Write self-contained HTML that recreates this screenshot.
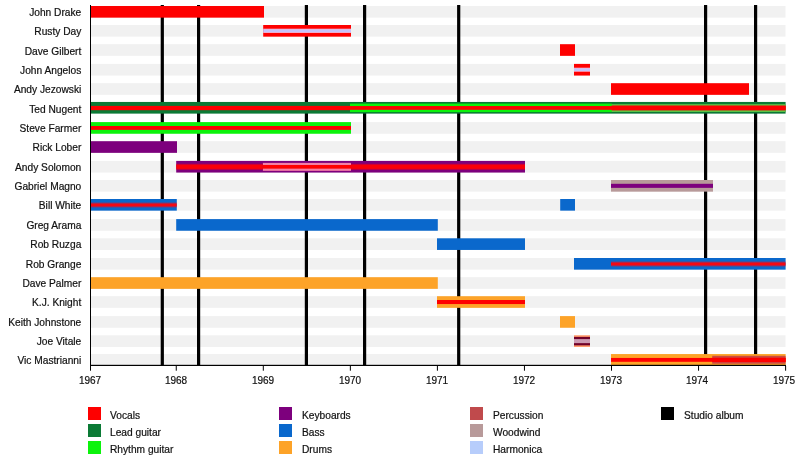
<!DOCTYPE html>
<html><head><meta charset="utf-8"><title>Timeline</title>
<style>
html,body{margin:0;padding:0;background:#fff;}
body{width:800px;height:475px;position:relative;overflow:hidden;font-family:"Liberation Sans",sans-serif;font-size:10.2px;color:#111;-webkit-text-stroke:0.2px #111;}
svg{position:absolute;left:0;top:0;}
.nm,.yr,.lg{position:absolute;will-change:transform;line-height:13px;height:13px;white-space:nowrap;}
.nm{left:0;width:81.3px;text-align:right;}
.yr{width:40px;text-align:center;font-size:10px;}
</style></head><body>
<svg width="800" height="475" viewBox="0 0 800 475">
<defs><linearGradient id="rg" x1="0" y1="0" x2="0" y2="1">
<stop offset="0.2" stop-color="#fa0008" stop-opacity="0"/><stop offset="0.37" stop-color="#fa0008"/><stop offset="0.64" stop-color="#fa0008"/><stop offset="0.82" stop-color="#fa0008" stop-opacity="0"/>
</linearGradient>
<linearGradient id="rg2" x1="0" y1="0" x2="0" y2="1">
<stop offset="0.26" stop-color="#f40814" stop-opacity="0"/><stop offset="0.44" stop-color="#f40814"/><stop offset="0.59" stop-color="#f40814"/><stop offset="0.77" stop-color="#f40814" stop-opacity="0"/>
</linearGradient>
<linearGradient id="hg" x1="0" y1="0" x2="0" y2="1">
<stop offset="0" stop-color="#ffb0c8"/><stop offset="0.32" stop-color="#c6c3fc"/><stop offset="0.68" stop-color="#c6c3fc"/><stop offset="1" stop-color="#ffb0c8"/>
</linearGradient></defs>
<rect x="91.00" y="6.00" width="694.50" height="11.65" fill="#f1f1f1"/>
<rect x="91.00" y="25.00" width="694.50" height="11.65" fill="#f1f1f1"/>
<rect x="91.00" y="44.20" width="694.50" height="11.65" fill="#f1f1f1"/>
<rect x="91.00" y="63.90" width="694.50" height="11.65" fill="#f1f1f1"/>
<rect x="91.00" y="83.20" width="694.50" height="11.65" fill="#f1f1f1"/>
<rect x="91.00" y="101.95" width="694.50" height="11.65" fill="#f1f1f1"/>
<rect x="91.00" y="122.10" width="694.50" height="11.65" fill="#f1f1f1"/>
<rect x="91.00" y="141.20" width="694.50" height="11.65" fill="#f1f1f1"/>
<rect x="91.00" y="160.90" width="694.50" height="11.65" fill="#f1f1f1"/>
<rect x="91.00" y="180.00" width="694.50" height="11.65" fill="#f1f1f1"/>
<rect x="91.00" y="199.00" width="694.50" height="11.65" fill="#f1f1f1"/>
<rect x="91.00" y="219.10" width="694.50" height="11.65" fill="#f1f1f1"/>
<rect x="91.00" y="238.30" width="694.50" height="11.65" fill="#f1f1f1"/>
<rect x="91.00" y="258.00" width="694.50" height="11.65" fill="#f1f1f1"/>
<rect x="91.00" y="277.20" width="694.50" height="11.65" fill="#f1f1f1"/>
<rect x="91.00" y="296.20" width="694.50" height="11.65" fill="#f1f1f1"/>
<rect x="91.00" y="316.10" width="694.50" height="11.65" fill="#f1f1f1"/>
<rect x="91.00" y="335.30" width="694.50" height="11.65" fill="#f1f1f1"/>
<rect x="91.00" y="354.05" width="694.50" height="11.25" fill="#f1f1f1"/>
<rect x="160.70" y="5.00" width="3.20" height="360.50" fill="#000"/>
<rect x="197.00" y="5.00" width="3.20" height="360.50" fill="#000"/>
<rect x="304.80" y="5.00" width="3.20" height="360.50" fill="#000"/>
<rect x="363.00" y="5.00" width="3.20" height="360.50" fill="#000"/>
<rect x="457.10" y="5.00" width="3.20" height="360.50" fill="#000"/>
<rect x="704.00" y="5.00" width="3.20" height="360.50" fill="#000"/>
<rect x="754.00" y="5.00" width="3.20" height="360.50" fill="#000"/>
<rect x="91.00" y="6.00" width="173.00" height="11.65" fill="#fe0000"/>
<rect x="263.20" y="25.00" width="87.80" height="11.65" fill="#fe0000"/>
<rect x="263.20" y="28.70" width="87.80" height="4.25" fill="url(#hg)"/>
<rect x="560.00" y="44.20" width="15.00" height="11.65" fill="#fe0000"/>
<rect x="574.00" y="63.90" width="16.00" height="11.65" fill="#fe0000"/>
<rect x="574.00" y="67.70" width="16.00" height="4.05" fill="url(#hg)"/>
<rect x="611.00" y="83.20" width="138.00" height="11.65" fill="#fe0000"/>
<rect x="91.00" y="101.95" width="694.60" height="11.65" fill="#0b7a35"/>
<rect x="611.00" y="104.15" width="174.60" height="7.85" fill="#5cc446"/>
<rect x="350.00" y="103.60" width="261.70" height="8.50" fill="#0cf30c"/>
<rect x="91.00" y="106.05" width="694.60" height="3.75" fill="#fe0000"/>
<rect x="91.00" y="105.90" width="259.00" height="4.30" fill="#fe0000"/>
<rect x="611.70" y="105.50" width="173.90" height="4.90" fill="#fe0000"/>
<rect x="91.00" y="122.10" width="260.00" height="11.65" fill="#0cf30c"/>
<rect x="91.00" y="126.00" width="260.00" height="3.85" fill="#fe0000"/>
<rect x="91.00" y="141.20" width="86.00" height="11.65" fill="#7d007d"/>
<rect x="176.20" y="160.90" width="348.80" height="11.65" fill="#7d007d"/>
<rect x="262.90" y="162.90" width="88.10" height="7.95" fill="#f27fa6"/>
<rect x="176.2" y="160.90" width="86.70" height="11.65" fill="url(#rg)"/>
<rect x="351" y="160.90" width="174.00" height="11.65" fill="url(#rg)"/>
<rect x="262.90" y="165.00" width="88.10" height="3.65" fill="#fe0000"/>
<rect x="611.00" y="180.00" width="102.00" height="11.65" fill="#b89a9a"/>
<rect x="611.00" y="183.80" width="102.00" height="4.05" fill="#7d007d"/>
<rect x="91.00" y="199.00" width="85.80" height="11.65" fill="#0a68cc"/>
<rect x="91.00" y="199.00" width="85.80" height="11.65" fill="url(#rg2)"/>
<rect x="560.20" y="199.00" width="14.80" height="11.65" fill="#0a68cc"/>
<rect x="176.20" y="219.10" width="261.60" height="11.65" fill="#0a68cc"/>
<rect x="437.00" y="238.30" width="88.00" height="11.65" fill="#0a68cc"/>
<rect x="574.00" y="258.00" width="211.60" height="11.65" fill="#0a68cc"/>
<rect x="611.00" y="258.00" width="174.60" height="11.65" fill="url(#rg2)"/>
<rect x="91.00" y="277.20" width="346.80" height="11.65" fill="#fda328"/>
<rect x="437.00" y="296.20" width="88.00" height="11.65" fill="#fda328"/>
<rect x="437.00" y="300.00" width="88.00" height="4.05" fill="#fe0000"/>
<rect x="560.00" y="316.10" width="15.00" height="11.65" fill="#fda328"/>
<rect x="574.00" y="335.30" width="16.00" height="11.65" fill="#ff9868"/>
<rect x="574.00" y="336.90" width="16.00" height="8.45" fill="#700028"/>
<rect x="574.00" y="339.10" width="16.00" height="4.05" fill="#cc9ab2"/>
<rect x="611.00" y="354.05" width="174.60" height="11.25" fill="#fda328"/>
<rect x="712.20" y="355.80" width="73.40" height="7.95" fill="#cb4c42"/>
<rect x="611.00" y="357.95" width="174.60" height="3.85" fill="#fe0000"/>
<rect x="712.20" y="357.75" width="73.40" height="4.35" fill="#fe0000"/>
<rect x="90.00" y="5.00" width="1.00" height="361.00" fill="#000"/>
<rect x="90.00" y="364.80" width="696.00" height="1.20" fill="#000"/>
<rect x="90.00" y="366.00" width="1.00" height="4.70" fill="#000"/>
<rect x="175.75" y="366.00" width="1.00" height="4.70" fill="#000"/>
<rect x="262.80" y="366.00" width="1.00" height="4.70" fill="#000"/>
<rect x="349.85" y="366.00" width="1.00" height="4.70" fill="#000"/>
<rect x="436.90" y="366.00" width="1.00" height="4.70" fill="#000"/>
<rect x="523.95" y="366.00" width="1.00" height="4.70" fill="#000"/>
<rect x="611.00" y="366.00" width="1.00" height="4.70" fill="#000"/>
<rect x="698.05" y="366.00" width="1.00" height="4.70" fill="#000"/>
<rect x="785.10" y="366.00" width="1.00" height="4.70" fill="#000"/>
<rect x="88.00" y="407.00" width="13.00" height="13.00" fill="#fe0000"/>
<rect x="88.00" y="424.00" width="13.00" height="13.00" fill="#0b7a35"/>
<rect x="88.00" y="441.00" width="13.00" height="13.00" fill="#0cf30c"/>
<rect x="279.00" y="407.00" width="13.00" height="13.00" fill="#7d007d"/>
<rect x="279.00" y="424.00" width="13.00" height="13.00" fill="#0a68cc"/>
<rect x="279.00" y="441.00" width="13.00" height="13.00" fill="#fda328"/>
<rect x="470.00" y="407.00" width="13.00" height="13.00" fill="#c04a4c"/>
<rect x="470.00" y="424.00" width="13.00" height="13.00" fill="#b89a9a"/>
<rect x="470.00" y="441.00" width="13.00" height="13.00" fill="#b7cdfb"/>
<rect x="661.00" y="407.00" width="13.00" height="13.00" fill="#000"/>
</svg>
<div class="yr" style="left:69.60px;top:374.3px">1967</div>
<div class="yr" style="left:156.05px;top:374.3px">1968</div>
<div class="yr" style="left:243.00px;top:374.3px">1969</div>
<div class="yr" style="left:329.95px;top:374.3px">1970</div>
<div class="yr" style="left:416.70px;top:374.3px">1971</div>
<div class="yr" style="left:504.15px;top:374.3px">1972</div>
<div class="yr" style="left:590.70px;top:374.3px">1973</div>
<div class="yr" style="left:677.45px;top:374.3px">1974</div>
<div class="yr" style="left:763.90px;top:374.3px">1975</div>
<div class="nm" style="top:6px">John Drake</div>
<div class="nm" style="top:25px">Rusty Day</div>
<div class="nm" style="top:45px">Dave Gilbert</div>
<div class="nm" style="top:64px">John Angelos</div>
<div class="nm" style="top:83px">Andy Jezowski</div>
<div class="nm" style="top:103px">Ted Nugent</div>
<div class="nm" style="top:122px">Steve Farmer</div>
<div class="nm" style="top:141px">Rick Lober</div>
<div class="nm" style="top:161px">Andy Solomon</div>
<div class="nm" style="top:180px">Gabriel Magno</div>
<div class="nm" style="top:199px">Bill White</div>
<div class="nm" style="top:219px">Greg Arama</div>
<div class="nm" style="top:238px">Rob Ruzga</div>
<div class="nm" style="top:258px">Rob Grange</div>
<div class="nm" style="top:277px">Dave Palmer</div>
<div class="nm" style="top:296px">K.J. Knight</div>
<div class="nm" style="top:316px">Keith Johnstone</div>
<div class="nm" style="top:335px">Joe Vitale</div>
<div class="nm" style="top:354px">Vic Mastrianni</div>
<div class="lg" style="left:110px;top:408.90px">Vocals</div>
<div class="lg" style="left:110px;top:425.90px">Lead guitar</div>
<div class="lg" style="left:110px;top:442.90px">Rhythm guitar</div>
<div class="lg" style="left:302px;top:408.90px">Keyboards</div>
<div class="lg" style="left:302px;top:425.90px">Bass</div>
<div class="lg" style="left:302px;top:442.90px">Drums</div>
<div class="lg" style="left:493px;top:408.90px">Percussion</div>
<div class="lg" style="left:493px;top:425.90px">Woodwind</div>
<div class="lg" style="left:493px;top:442.90px">Harmonica</div>
<div class="lg" style="left:684px;top:408.90px">Studio album</div>
</body></html>
